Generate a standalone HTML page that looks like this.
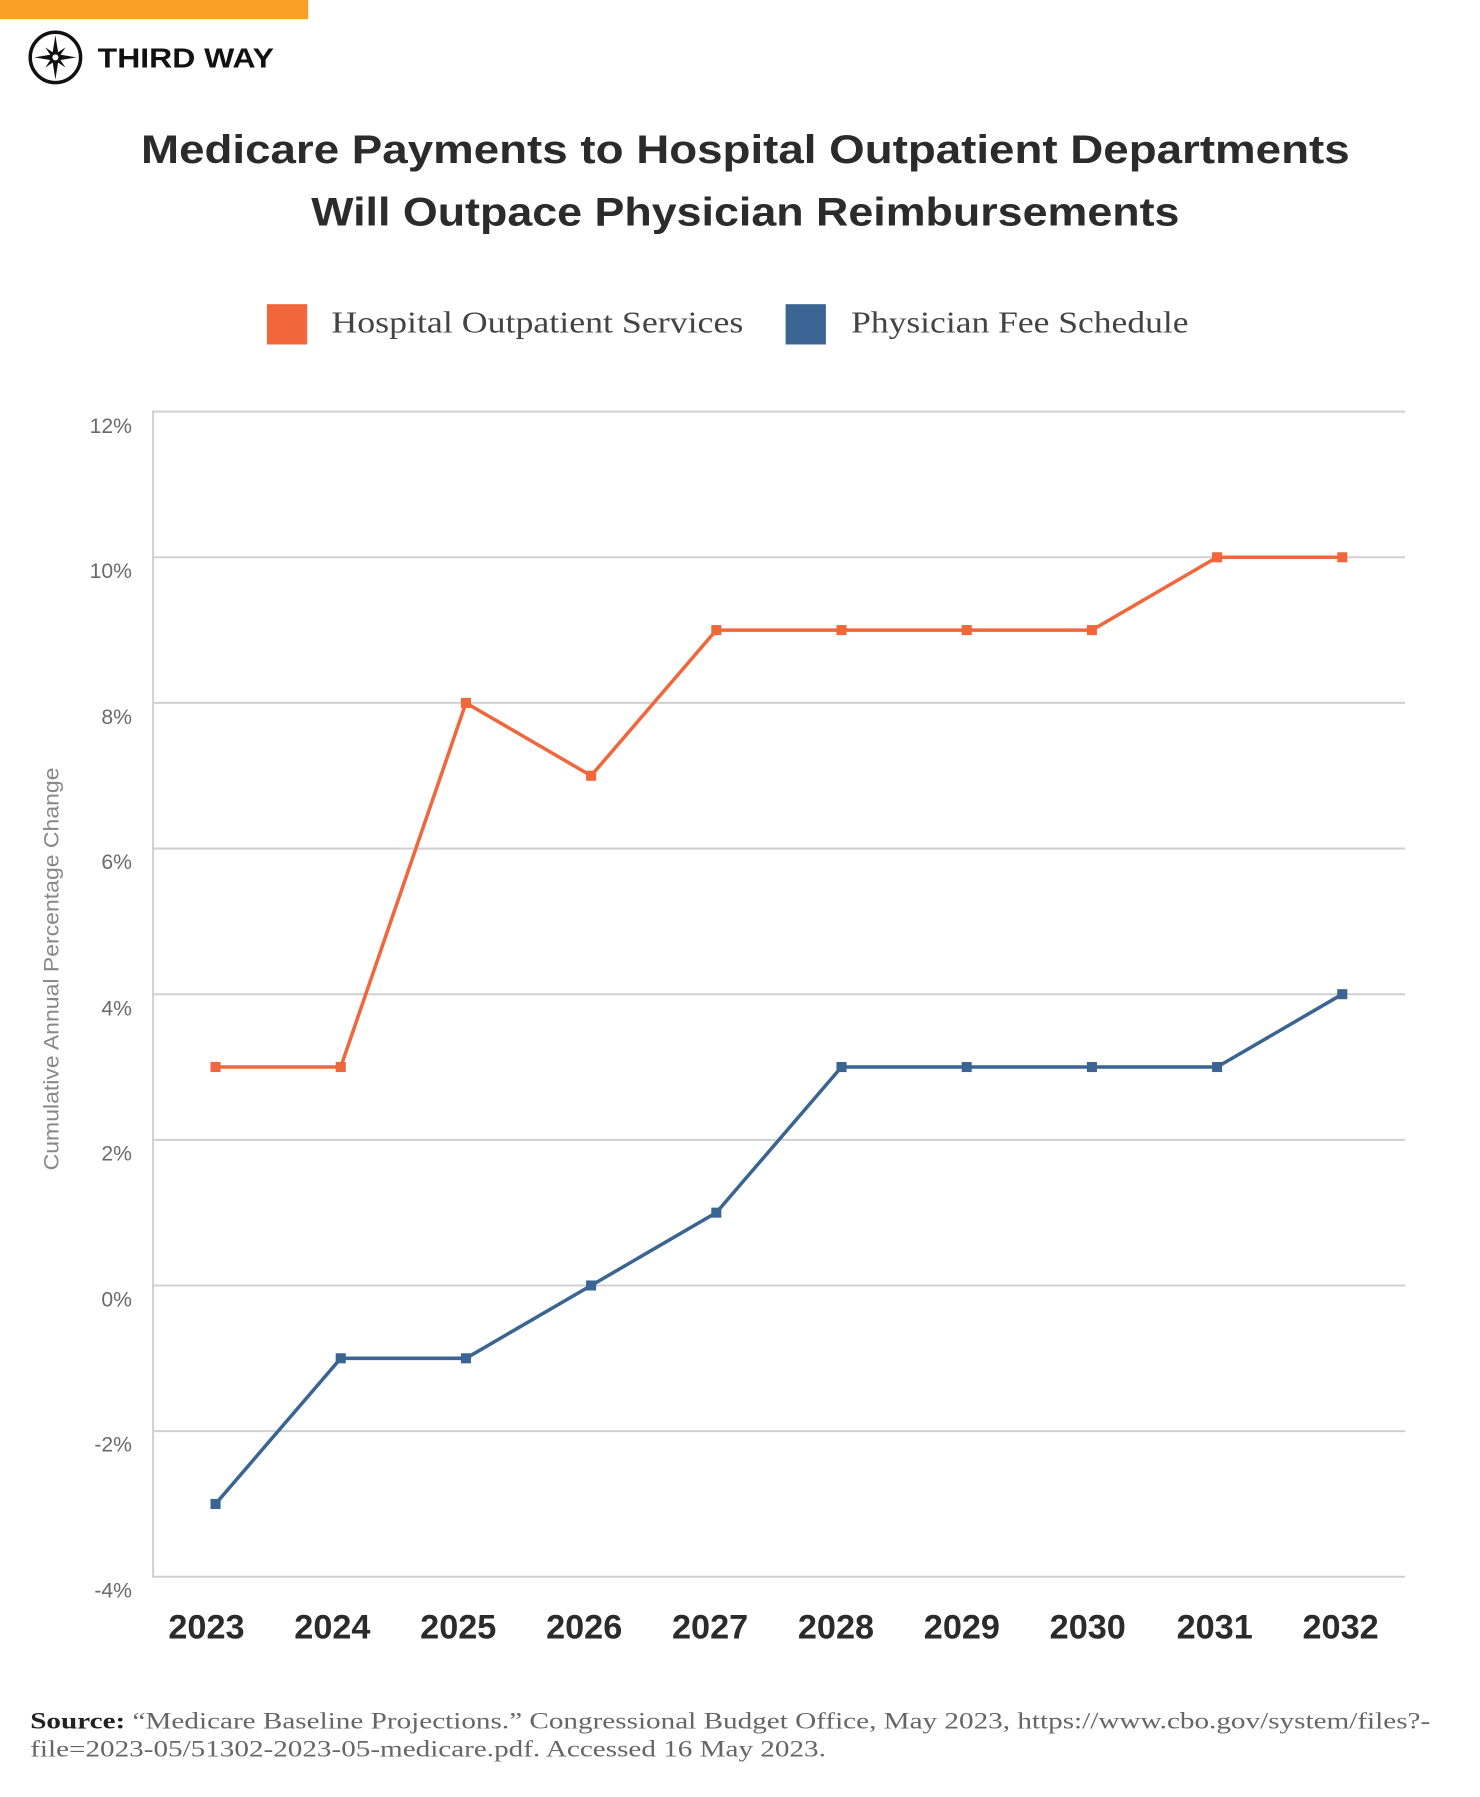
<!DOCTYPE html>
<html><head><meta charset="utf-8"><style>
html,body{margin:0;padding:0;background:#fff;}
body{width:1480px;height:1792px;overflow:hidden;}
</style></head><body>
<svg width="1480" height="1792" viewBox="0 0 1469.4 1779.2" preserveAspectRatio="xMinYMin meet" xmlns="http://www.w3.org/2000/svg">
<rect x="0" y="0" width="306" height="19" fill="#FBA024"/>
<!-- logo -->
<circle cx="55" cy="57" r="25" fill="none" stroke="#111" stroke-width="3.5"/>
<polygon points="55,35 58,54 76,57 58,60 55,79 52,60 34,57 52,54" fill="#111"/>
<polygon points="45,47 57,55 65,67 53,59" fill="#111"/>
<polygon points="65,47 57,59 45,67 53,55" fill="#111"/>
<circle cx="55" cy="57" r="3" fill="#fff"/>
<text x="97" y="67" font-family="Liberation Sans, sans-serif" font-weight="bold" font-size="28" fill="#111" textLength="175" lengthAdjust="spacingAndGlyphs">THIRD WAY</text>
<!-- title -->
<g font-family="Liberation Sans, sans-serif" font-weight="bold" font-size="40" fill="#2b2b2b" text-anchor="middle">
<text x="740" y="162" textLength="1200" lengthAdjust="spacingAndGlyphs">Medicare Payments to Hospital Outpatient Departments</text>
<text x="740" y="224" textLength="862" lengthAdjust="spacingAndGlyphs">Will Outpace Physician Reimbursements</text>
</g>
<!-- legend -->
<rect x="265" y="302" width="40" height="40" fill="#F1663A"/>
<text x="329" y="330" font-family="Liberation Serif, serif" font-size="30" fill="#444" textLength="409" lengthAdjust="spacingAndGlyphs">Hospital Outpatient Services</text>
<rect x="780" y="302" width="40" height="40" fill="#3A6592"/>
<text x="845" y="330" font-family="Liberation Serif, serif" font-size="30" fill="#444" textLength="335" lengthAdjust="spacingAndGlyphs">Physician Fee Schedule</text>
<!-- grid -->
<g stroke="#d0d0d0" stroke-width="2">
<line x1="151" y1="408.7" x2="1395" y2="408.7"/>
<line x1="151" y1="553.3" x2="1395" y2="553.3"/>
<line x1="151" y1="697.9" x2="1395" y2="697.9"/>
<line x1="151" y1="842.5" x2="1395" y2="842.5"/>
<line x1="151" y1="987.1" x2="1395" y2="987.1"/>
<line x1="151" y1="1131.7" x2="1395" y2="1131.7"/>
<line x1="151" y1="1276.3" x2="1395" y2="1276.3"/>
<line x1="151" y1="1420.9" x2="1395" y2="1420.9"/>
<line x1="151" y1="1565.5" x2="1395" y2="1565.5"/>
<line x1="152" y1="408" x2="152" y2="1566"/>
</g>
<g font-family="Liberation Sans, sans-serif" font-size="21" fill="#6a6a6a" text-anchor="end">
<text x="131" y="430">12%</text>
<text x="131" y="574">10%</text>
<text x="131" y="719">8%</text>
<text x="131" y="863">6%</text>
<text x="131" y="1008">4%</text>
<text x="131" y="1152">2%</text>
<text x="131" y="1297">0%</text>
<text x="131" y="1441">-2%</text>
<text x="131" y="1586">-4%</text>
</g>
<text transform="translate(58,962) rotate(-90)" font-family="Liberation Sans, sans-serif" font-size="21" fill="#888" text-anchor="middle" textLength="400" lengthAdjust="spacingAndGlyphs">Cumulative Annual Percentage Change</text>
<g font-family="Liberation Sans, sans-serif" font-weight="bold" font-size="34" fill="#2b2b2b" text-anchor="middle">
<text x="205" y="1627">2023</text><text x="330" y="1627">2024</text><text x="455" y="1627">2025</text><text x="580" y="1627">2026</text><text x="705" y="1627">2027</text><text x="830" y="1627">2028</text><text x="955" y="1627">2029</text><text x="1080" y="1627">2030</text><text x="1206" y="1627">2031</text><text x="1331" y="1627">2032</text>
</g>
<!-- series -->
<polyline fill="none" stroke="#F1663A" stroke-width="3.5" points="214,1059.4 338.3,1059.4 462.6,697.9 586.9,770.2 711.2,625.6 835.5,625.6 959.8,625.6 1084.1,625.6 1208.4,553.3 1332.7,553.3"/>
<g fill="#F1663A">
<rect x="209" y="1054.4" width="10" height="10"/><rect x="333.3" y="1054.4" width="10" height="10"/><rect x="457.6" y="692.9" width="10" height="10"/><rect x="581.9" y="765.2" width="10" height="10"/><rect x="706.2" y="620.6" width="10" height="10"/><rect x="830.5" y="620.6" width="10" height="10"/><rect x="954.8" y="620.6" width="10" height="10"/><rect x="1079.1" y="620.6" width="10" height="10"/><rect x="1203.4" y="548.3" width="10" height="10"/><rect x="1327.7" y="548.3" width="10" height="10"/>
</g>
<polyline fill="none" stroke="#3A6592" stroke-width="3.5" points="214,1493.2 338.3,1348.6 462.6,1348.6 586.9,1276.3 711.2,1204 835.5,1059.4 959.8,1059.4 1084.1,1059.4 1208.4,1059.4 1332.7,987.1"/>
<g fill="#3A6592">
<rect x="209" y="1488.2" width="10" height="10"/><rect x="333.3" y="1343.6" width="10" height="10"/><rect x="457.6" y="1343.6" width="10" height="10"/><rect x="581.9" y="1271.3" width="10" height="10"/><rect x="706.2" y="1199" width="10" height="10"/><rect x="830.5" y="1054.4" width="10" height="10"/><rect x="954.8" y="1054.4" width="10" height="10"/><rect x="1079.1" y="1054.4" width="10" height="10"/><rect x="1203.4" y="1054.4" width="10" height="10"/><rect x="1327.7" y="982.1" width="10" height="10"/>
</g>
<!-- source -->
<g font-family="Liberation Serif, serif" font-size="23" fill="#666">
<text x="30" y="1716" textLength="1390" lengthAdjust="spacingAndGlyphs"><tspan font-weight="bold" fill="#222">Source:</tspan> “Medicare Baseline Projections.” Congressional Budget Office, May 2023, https://www.cbo.gov/system/files?-</text>
<text x="30" y="1744" textLength="790" lengthAdjust="spacingAndGlyphs">file=2023-05/51302-2023-05-medicare.pdf. Accessed 16 May 2023.</text>
</g>
</svg>
</body></html>
